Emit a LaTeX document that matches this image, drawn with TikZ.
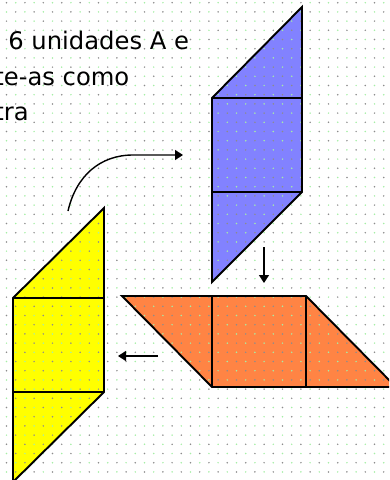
\documentclass[tikz,border=0pt]{standalone}
\usepackage{fontspec}
\setmainfont{DejaVu Sans}
\usetikzlibrary{arrows.meta}
\definecolor{ptBlue}{HTML}{8282FF}
\definecolor{ptOrange}{HTML}{FF8444}
\definecolor{ptYellow}{HTML}{FFFF00}
\definecolor{ptDot}{HTML}{8C8C8C}
\definecolor{ptDotG}{HTML}{A6EEA6}

\begin{document}
\begin{tikzpicture}[x=0.02cm, y=-0.02cm,
  every node/.style={font=\fontsize{13.8}{16}\selectfont, inner sep=0pt, anchor=base west},
  piece/.style={draw=black, line width=1.1pt, line join=miter},
  arrow/.style={-{Triangle[length=1.6mm, width=2mm]}, line width=0.8pt}
]
 \useasboundingbox (0,0) rectangle (389,480);
 \clip (0,0) rectangle (389,480);

 % fills of the three pieces
 \fill[ptBlue]   (212,98) -- (302,7) -- (302,192) -- (212,282) -- cycle;
 \fill[ptOrange] (122,296) -- (306,296) -- (396,387) -- (212,387) -- cycle;
 \fill[ptYellow] (13,298) -- (104,208) -- (104,392) -- (13,482) -- cycle;

 % dotted grid
 \foreach \i in {0,...,42}
  \foreach \j in {0,...,52} {
   \pgfmathparse{mod(\i+\j,2)==0 ? "ptDot" : "ptDotG"}
   \fill[\pgfmathresult] (6.5+\i*9.2, 2.7+\j*9.2) circle (0.85);
  }

 % outlines
 \draw[piece] (212,98) -- (302,7) -- (302,192) -- (212,282) -- cycle;
 \draw[piece] (212,98) -- (302,98) (212,192) -- (302,192);
 \draw[piece] (122,296) -- (306,296) -- (396,387) -- (212,387) -- cycle;
 \draw[piece] (212,296) -- (212,387) (306,296) -- (306,387);
 \draw[piece] (13,298) -- (104,208) -- (104,392) -- (13,482) -- cycle;
 \draw[piece] (13,298) -- (104,298) (13,392) -- (104,392);

 % text
 \node (l1) at (8,50)  {6 unidades A e};
 \node (l2) at (-6,85) {te-as como};
 \node (l3) at (-6,120) {tra};

 % arrows
 \coordinate (curveS) at (68,211);
 \coordinate (curveM) at (133,155);
 \coordinate (curveE) at (183,155);
 \coordinate (downS) at (264,247);
 \coordinate (downE) at (264,283);
 \coordinate (leftS) at (158,356);
 \coordinate (leftE) at (118,356);

 \draw[arrow] (curveS) .. controls (76,176) and (100,155) .. (curveM) -- (curveE);
 \draw[arrow] (downS) -- (downE);
 \draw[arrow] (leftS) -- (leftE);
\end{tikzpicture}
\end{document}
